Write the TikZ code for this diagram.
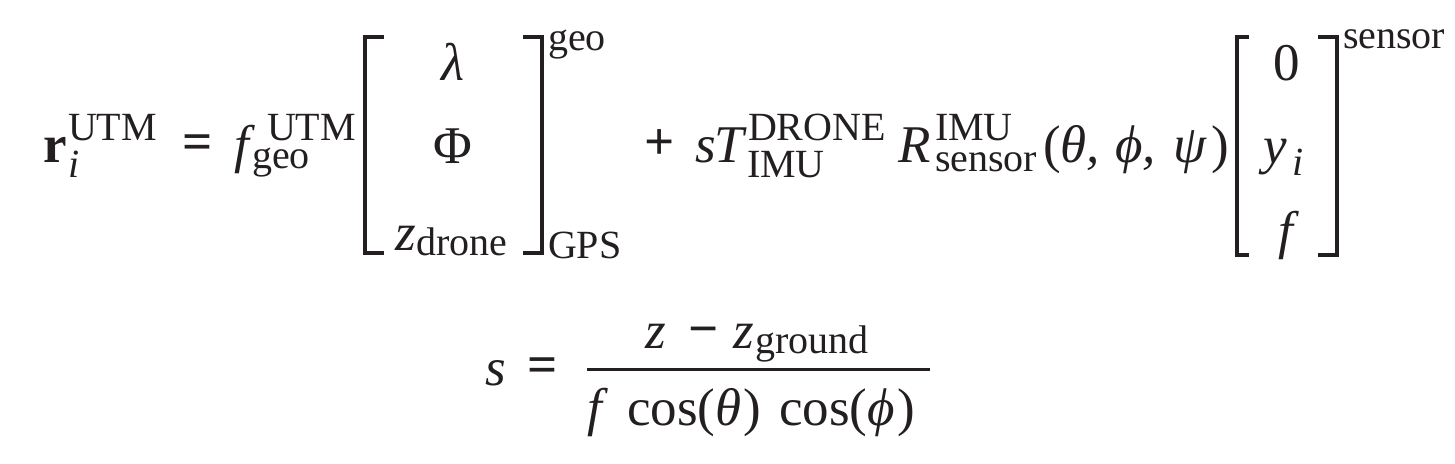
\documentclass[tikz,border=0pt]{standalone}
\usepackage{fontspec}
\setmainfont{Liberation Serif}
\definecolor{ink}{HTML}{231F20}
\tikzset{
  mainT/.style={anchor=base west, inner sep=0pt, outer sep=0pt, text=ink, font=\fontsize{53}{60}\selectfont},
  mainC/.style={mainT, anchor=base},
  scrT/.style={anchor=base west, inner sep=0pt, outer sep=0pt, text=ink, font=\fontsize{40}{46}\selectfont},
  brk/.style={draw=ink, line width=4.4pt, line cap=butt, line join=miter},
  fracbar/.style={draw=ink, line width=3pt}
}
\begin{document}
\begin{tikzpicture}[x=1pt, y={(0pt,-1pt)}]
\useasboundingbox (0,0) rectangle (1455,463);
% ---- first line ----
\node[mainT] (r) at (43,162) {\textbf{r}};
\node[scrT] (ri) at (68,177) {\itshape i};
\node[scrT] (rutm) at (68,140) {UTM};
\node[mainT] (eq1) at (182,159) {\textbf{=}};
\node[mainT] (f1) at (234,162) {\itshape f};
\node[scrT] (futm) at (267,140) {UTM};
\node[scrT] (fgeo) at (252,168) {geo};
% first matrix
\draw[brk] (384,37) -- (365,37) -- (365,253) -- (384,253);
\node[mainC] (lam) at (453,80) {\itshape λ};
\node[mainC] (Phi) at (453,163) {Φ};
\node[mainT] (zd) at (395,250) {\itshape z};
\node[scrT] (drone) at (416,255) {drone};
\draw[brk] (523,37) -- (542,37) -- (542,253) -- (523,253);
\node[scrT] (geosup) at (548,50) {geo};
\node[scrT] (gps) at (548,258) {GPS};
\node[mainC] (plus) at (660,159) {\textbf{+}};
\node[mainT] (s1) at (695,162) {\itshape s};
\node[mainT] (T) at (714,162) {\itshape T};
\node[scrT] (drn) at (748,140) {DRONE};
\node[scrT] (imu1) at (747,177) {IMU};
\node[mainT] (R) at (898,162) {\itshape R};
\node[scrT] (imu2) at (935,140) {IMU};
\node[scrT] (sens1) at (935,171) {sensor};
\node[mainT] (lp) at (1043,162) {(};
\node[mainT] (th) at (1060,162) {\itshape θ,};
\node[mainT] (ph) at (1115,162) {\itshape ϕ,};
\node[mainT] (ps) at (1173,162) {\itshape ψ};
\node[mainT] (rp) at (1211,162) {)};
% second matrix
\draw[brk] (1249,37) -- (1237,37) -- (1237,255) -- (1249,255);
\node[mainC] (zero) at (1287,80) {0};
\node[mainT] (y) at (1263,163) {\itshape y};
\node[scrT] (yi) at (1292,175) {\itshape i};
\node[mainC] (f2) at (1286,248) {\itshape f};
\draw[brk] (1318,37) -- (1337,37) -- (1337,255) -- (1318,255);
\node[scrT] (sens2) at (1343,48) {sensor};
% ---- second line ----
\node[mainT] (s2) at (485,385) {\itshape s};
\node[mainT] (eq2) at (527,382) {\textbf{=}};
\draw[fracbar] (587,369) -- (930,369);
\node[mainT] (z1) at (645,348) {\itshape z};
\node[mainT] (minus) at (688,346) {\textbf{−}};
\node[mainT] (z2) at (733,348) {\itshape z};
\node[scrT] (ground) at (755,353) {ground};
\node[mainT] (f3) at (587,425) {\itshape f};
\node[mainT] (cos1) at (627,425) {cos(\textit{θ}\kern2pt)};
\node[mainT] (cos2) at (779,425) {cos(\textit{ϕ}\kern3pt)};
\end{tikzpicture}
\end{document}
